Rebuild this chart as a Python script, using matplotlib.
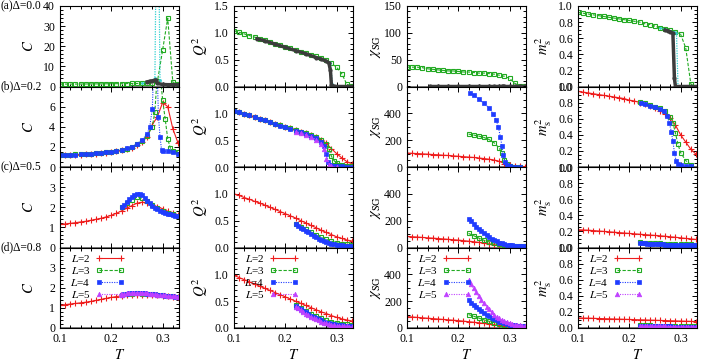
import matplotlib.pyplot as plt
from matplotlib.ticker import AutoMinorLocator, FormatStrFormatter

plt.rcParams['font.family'] = ['Liberation Serif', 'DejaVu Serif']
plt.rcParams['mathtext.fontset'] = 'stix'

# ---------------- data ----------------
T_full = [0.10, 0.11, 0.12, 0.13, 0.14, 0.15, 0.16, 0.17, 0.18, 0.19, 0.20, 0.21,
          0.22, 0.23, 0.24, 0.25, 0.26, 0.27, 0.28, 0.29, 0.30, 0.31, 0.32, 0.33]

# (a) Delta = 0.0
C_a3 = [1.2, 1.2, 1.2, 1.2, 1.25, 1.25, 1.3, 1.3, 1.3, 1.35, 1.35, 1.4,
        1.4, 1.45, 1.5, 1.5, 1.6, 1.7, 1.9, 2.6, 18, 34, 2.0, 1.2]
Q2_a3 = [1.04, 1.01, 0.98, 0.95, 0.92, 0.89, 0.86, 0.83, 0.80, 0.77, 0.74, 0.71,
         0.68, 0.65, 0.62, 0.59, 0.56, 0.53, 0.49, 0.43, 0.36, 0.24, 0.04, 0.01]
chi_a3 = [36, 36, 36, 35, 33, 32, 31, 30, 29, 29, 28, 27,
          27, 26, 25, 25, 24, 23, 21, 19, 15, 6, 1, 0.5]
m2_a3 = [0.92, 0.91, 0.90, 0.89, 0.88, 0.87, 0.86, 0.85, 0.84, 0.83, 0.82, 0.81,
         0.80, 0.78, 0.77, 0.75, 0.73, 0.72, 0.70, 0.68, 0.65, 0.48, 0.03, 0.0]

T_a_big = [0.145, 0.16, 0.18, 0.20, 0.22, 0.24, 0.26, 0.27, 0.28, 0.285, 0.288,
           0.29, 0.30, 0.31, 0.32, 0.33]
Q2_a_big = [0.89, 0.85, 0.79, 0.73, 0.67, 0.61, 0.54, 0.51, 0.47, 0.44, 0.30,
            0.02, 0.0, 0.0, 0.0, 0.0]
chi_a_big = [0.3, 0.3, 0.3, 0.3, 0.3, 0.3, 0.3, 0.3, 0.3, 0.3, 0.3,
             0.3, 0.3, 0.3, 0.3, 0.3]
T_a_big2 = [0.27, 0.275, 0.28, 0.285, 0.288, 0.29, 0.30, 0.31, 0.32, 0.33]
C_a_big = [2.3, 2.6, 2.8, 3.2, 3.0, 1.5, 1.0, 0.9, 0.9, 0.9]
m2_a_big = [0.70, 0.69, 0.68, 0.66, 0.10, 0.0, 0.0, 0.0, 0.0, 0.0]

T_a_cy = [0.26, 0.27, 0.28, 0.285, 0.288, 0.292, 0.295, 0.30, 0.31, 0.32, 0.33]
C_a_cy = [1.7, 2.2, 2.8, 4.0, 80, 80, 3.0, 1.2, 1.0, 0.9, 0.9]
Q2_a_cy = [0.54, 0.51, 0.47, 0.45, 0.44, 0.05, 0.0, 0.0, 0.0, 0.0, 0.0]
m2_a_cy = [0.73, 0.71, 0.69, 0.68, 0.68, 0.67, 0.0, 0.0, 0.0, 0.0, 0.0]

# (b) Delta = 0.2
C_b2 = [1.15, 1.17, 1.19, 1.21, 1.24, 1.27, 1.30, 1.34, 1.38, 1.43, 1.49, 1.56,
        1.65, 1.77, 1.93, 2.15, 2.5, 3.0, 4.2, 5.0, 6.4, 6.0, 3.8, 2.4]
Q2_b2 = [1.05, 1.02, 0.99, 0.96, 0.93, 0.90, 0.87, 0.84, 0.81, 0.78, 0.75, 0.72,
         0.69, 0.66, 0.63, 0.60, 0.56, 0.51, 0.44, 0.34, 0.25, 0.17, 0.10, 0.06]
chi_b2 = [104, 102, 100, 98, 96, 93, 91, 88, 86, 83, 80, 77,
          74, 71, 67, 63, 58, 52, 42, 25, 14, 8, 5, 3]
m2_b2 = [0.94, 0.93, 0.92, 0.91, 0.90, 0.89, 0.88, 0.87, 0.86, 0.85, 0.83, 0.82,
         0.80, 0.78, 0.76, 0.73, 0.70, 0.66, 0.61, 0.52, 0.40, 0.31, 0.22, 0.16]

T_b3 = [0.10, 0.11, 0.12, 0.13, 0.14, 0.15, 0.16, 0.17, 0.18, 0.19, 0.20, 0.21,
        0.22, 0.23, 0.24, 0.25, 0.26, 0.27, 0.28, 0.285, 0.29, 0.295, 0.30,
        0.305, 0.31, 0.315, 0.32, 0.33]
C_b3 = [1.2, 1.22, 1.24, 1.26, 1.28, 1.31, 1.34, 1.38, 1.42, 1.47, 1.53, 1.6,
        1.7, 1.83, 2.0, 2.25, 2.6, 3.1, 4.0, 5.5, 9.5, 9.5, 6.7,
        4.8, 2.8, 1.9, 1.6, 1.5]
Q2_b3 = [1.05, 1.02, 0.99, 0.96, 0.93, 0.90, 0.87, 0.84, 0.81, 0.78, 0.75, 0.72,
         0.69, 0.66, 0.63, 0.59, 0.55, 0.50, 0.42, 0.33, 0.20, 0.12, 0.07,
         0.04, 0.03, 0.02, 0.02, 0.01]
T_b3h = [0.22, 0.23, 0.24, 0.25, 0.26, 0.27, 0.28, 0.285, 0.29, 0.295, 0.30, 0.31, 0.32]
chi_b3 = [245, 238, 230, 220, 205, 180, 140, 105, 55, 20, 8, 3, 2]
m2_b3 = [0.81, 0.79, 0.77, 0.75, 0.73, 0.69, 0.62, 0.55, 0.42, 0.28, 0.18, 0.08, 0.03]

T_b4 = [0.10, 0.11, 0.12, 0.13, 0.14, 0.15, 0.16, 0.17, 0.18, 0.19, 0.20, 0.21,
        0.22, 0.23, 0.24, 0.25, 0.26, 0.27, 0.275, 0.28, 0.284, 0.288, 0.292,
        0.295, 0.298, 0.30, 0.31, 0.32, 0.33]
C_b4 = [1.18, 1.2, 1.22, 1.24, 1.27, 1.3, 1.33, 1.37, 1.41, 1.46, 1.52, 1.6,
        1.7, 1.84, 2.02, 2.3, 2.7, 3.3, 4.0, 5.8, 12, 12, 5.0,
        3.0, 1.7, 1.6, 1.55, 1.45, 1.25]
Q2_b4 = [1.05, 1.02, 0.99, 0.96, 0.93, 0.90, 0.87, 0.84, 0.80, 0.77, 0.74, 0.71,
         0.68, 0.65, 0.62, 0.58, 0.54, 0.46, 0.39, 0.25, 0.10, 0.04, 0.02,
         0.015, 0.01, 0.01, 0.01, 0.0, 0.0]
T_b4h = [0.222, 0.23, 0.24, 0.25, 0.26, 0.268, 0.274, 0.278, 0.282, 0.285, 0.288,
         0.291, 0.294, 0.30, 0.31, 0.32]
chi_b4 = [555, 535, 505, 475, 440, 395, 350, 300, 225, 160, 90, 40, 15, 5, 2, 1]
m2_b4 = [0.80, 0.78, 0.76, 0.74, 0.72, 0.69, 0.63, 0.55, 0.44, 0.32, 0.18,
         0.08, 0.04, 0.02, 0.015, 0.01]

T_b5 = [0.22, 0.23, 0.24, 0.25, 0.26, 0.27, 0.275, 0.28, 0.285, 0.29, 0.30]
Q2_b5 = [0.66, 0.63, 0.60, 0.56, 0.51, 0.43, 0.33, 0.14, 0.04, 0.01, 0.0]

# (c) Delta = 0.5
C_c2 = [1.15, 1.17, 1.2, 1.23, 1.27, 1.3, 1.35, 1.4, 1.45, 1.52, 1.6, 1.7,
        1.82, 1.95, 2.08, 2.2, 2.25, 2.22, 2.12, 2.02, 1.93, 1.8, 1.7, 1.6]
Q2_c2 = [1.0, 0.97, 0.93, 0.90, 0.86, 0.83, 0.79, 0.75, 0.71, 0.67, 0.63, 0.59,
         0.55, 0.50, 0.46, 0.41, 0.37, 0.32, 0.28, 0.24, 0.20, 0.17, 0.14, 0.12]
chi_c2 = [82, 80, 78, 75, 72, 70, 67, 64, 61, 58, 55, 51,
          47, 43, 38, 33, 27, 21, 15, 11, 8, 6, 4, 3]
m2_c2 = [0.22, 0.218, 0.215, 0.21, 0.205, 0.2, 0.195, 0.19, 0.185, 0.18, 0.175, 0.17,
         0.165, 0.16, 0.155, 0.15, 0.145, 0.14, 0.133, 0.127, 0.12, 0.113, 0.107, 0.1]

T_high = [0.22, 0.23, 0.24, 0.25, 0.26, 0.27, 0.28, 0.29, 0.30, 0.31, 0.32, 0.33]
C_c3 = [2.0, 2.2, 2.38, 2.5, 2.45, 2.3, 2.1, 1.95, 1.82, 1.72, 1.65, 1.58]
Q2_c3 = [0.44, 0.39, 0.34, 0.29, 0.24, 0.19, 0.15, 0.12, 0.09, 0.07, 0.06, 0.05]
chi_c3 = [105, 88, 70, 54, 42, 32, 24, 18, 14, 11, 9, 8]
m2_c3 = [0.065, 0.062, 0.058, 0.055, 0.052, 0.049, 0.046, 0.044, 0.042, 0.04, 0.038, 0.036]

T_dense = [0.22, 0.225, 0.23, 0.235, 0.24, 0.245, 0.25, 0.255, 0.26, 0.265, 0.27, 0.275,
           0.28, 0.285, 0.29, 0.295, 0.30, 0.305, 0.31, 0.315, 0.32, 0.325, 0.33]
C_c4 = [2.0, 2.12, 2.25, 2.4, 2.52, 2.62, 2.68, 2.68, 2.6, 2.48, 2.33, 2.2,
        2.08, 1.98, 1.9, 1.83, 1.77, 1.72, 1.68, 1.64, 1.6, 1.57, 1.55]
Q2_c4 = [0.43, 0.40, 0.37, 0.34, 0.31, 0.28, 0.25, 0.22, 0.19, 0.165, 0.14, 0.12,
         0.10, 0.085, 0.07, 0.06, 0.05, 0.045, 0.04, 0.035, 0.03, 0.028, 0.025]
chi_c4 = [215, 195, 175, 155, 137, 122, 108, 93, 78, 66, 55, 45,
          37, 30, 25, 21, 18, 15, 13, 12, 11, 10, 9]
m2_c4 = [0.055, 0.053, 0.051, 0.049, 0.047, 0.045, 0.043, 0.041, 0.039, 0.038, 0.036, 0.035,
         0.034, 0.032, 0.031, 0.03, 0.029, 0.028, 0.027, 0.027, 0.026, 0.025, 0.025]

# (d) Delta = 0.8
C_d2 = [1.13, 1.16, 1.19, 1.22, 1.25, 1.28, 1.32, 1.37, 1.42, 1.47, 1.52, 1.56,
        1.6, 1.63, 1.65, 1.66, 1.66, 1.65, 1.64, 1.62, 1.6, 1.58, 1.56, 1.54]
Q2_d2 = [0.98, 0.94, 0.90, 0.86, 0.82, 0.78, 0.74, 0.70, 0.66, 0.62, 0.58, 0.54,
         0.50, 0.46, 0.42, 0.38, 0.34, 0.30, 0.27, 0.23, 0.20, 0.17, 0.15, 0.13]
chi_d2 = [85, 82, 79, 76, 73, 70, 67, 64, 61, 58, 55, 51,
          47, 43, 39, 34, 29, 24, 19, 15, 11, 9, 7, 6]
m2_d2 = [0.125, 0.123, 0.122, 0.12, 0.118, 0.116, 0.114, 0.112, 0.11, 0.108, 0.106, 0.104,
         0.102, 0.1, 0.098, 0.096, 0.094, 0.092, 0.09, 0.088, 0.086, 0.084, 0.082, 0.08]

C_d3 = [1.62, 1.68, 1.71, 1.72, 1.71, 1.69, 1.67, 1.65, 1.62, 1.6, 1.58, 1.56]
Q2_d3 = [0.42, 0.37, 0.32, 0.27, 0.23, 0.19, 0.15, 0.12, 0.10, 0.08, 0.07, 0.06]
chi_d3 = [100, 88, 74, 61, 50, 40, 32, 26, 21, 17, 14, 12]
m2_d3 = [0.035, 0.034, 0.033, 0.031, 0.03, 0.029, 0.027, 0.026, 0.025, 0.023, 0.022, 0.021]

C_d4 = [1.63, 1.67, 1.7, 1.72, 1.73, 1.74, 1.74, 1.74, 1.73, 1.72, 1.71, 1.7,
        1.68, 1.67, 1.66, 1.64, 1.63, 1.61, 1.6, 1.58, 1.57, 1.56, 1.55]
Q2_d4 = [0.41, 0.38, 0.35, 0.32, 0.29, 0.26, 0.23, 0.20, 0.18, 0.16, 0.14, 0.12,
         0.10, 0.09, 0.08, 0.07, 0.06, 0.055, 0.05, 0.045, 0.04, 0.037, 0.035]
chi_d4 = [205, 190, 175, 160, 145, 128, 112, 98, 86, 75, 65, 56,
          48, 41, 35, 30, 26, 23, 20, 18, 16, 14, 13]
m2_d4 = [0.03, 0.029, 0.028, 0.027, 0.026, 0.025, 0.024, 0.023, 0.022, 0.021, 0.02, 0.02,
         0.019, 0.018, 0.018, 0.017, 0.017, 0.016, 0.016, 0.015, 0.015, 0.015, 0.014]

C_d5 = [1.65, 1.69, 1.72, 1.74, 1.75, 1.76, 1.76, 1.76, 1.75, 1.74, 1.72, 1.71,
        1.69, 1.68, 1.66, 1.65, 1.63, 1.62, 1.6, 1.59, 1.58, 1.57, 1.56]
Q2_d5 = [0.40, 0.37, 0.33, 0.30, 0.27, 0.24, 0.21, 0.18, 0.16, 0.14, 0.12, 0.10,
         0.085, 0.07, 0.06, 0.05, 0.045, 0.04, 0.035, 0.03, 0.028, 0.025, 0.023]
chi_d5 = [355, 325, 295, 265, 238, 210, 183, 160, 138, 118, 100, 85,
          71, 59, 49, 41, 34, 29, 25, 22, 19, 17, 15]
m2_d5 = [0.028, 0.027, 0.026, 0.025, 0.024, 0.023, 0.022, 0.021, 0.02, 0.019, 0.019, 0.018,
         0.017, 0.017, 0.016, 0.016, 0.015, 0.015, 0.014, 0.014, 0.014, 0.013, 0.013]

row_labels = ['(a)Δ=0.0', '(b)Δ=0.2', '(c)Δ=0.5', '(d)Δ=0.8']
y_labels = ['$C$', '$Q^2$', r'$\chi_{\rm SG}$', r'$m_{\rm s}^2$']
legend_labels = ['$L$=2', '$L$=3', '$L$=4', '$L$=5']

# ---------------- styles ----------------
styles = {
    'L2': dict(color='#ee1c1c', marker='+', ms=4.5, mew=0.8, ls='-', lw=0.8),
    'L3': dict(color='#22aa22', marker='s', ms=3.3, mfc='none', mew=0.8,
               ls=(0, (3, 1.5)), lw=0.8),
    'L4': dict(color='#1f3cff', marker='s', ms=2.8, mew=0.5, ls=(0, (1, 1.2)), lw=0.8),
    'L5': dict(color='#c040ff', marker='^', ms=3.3, mew=0.5, ls=(0, (1, 1.2)), lw=0.8),
    'cyan': dict(color='#30d0d0', marker='.', ms=2, ls=(0, (1, 1)), lw=0.9),
    'grey': dict(color='#3c3c3c', marker='o', ms=2, ls='-', lw=2.5),
}

# panels[row][col] = list of (style, T, y)
panels = [
    [
        [('L3', T_full, C_a3), ('cyan', T_a_cy, C_a_cy), ('grey', T_a_big2, C_a_big)],
        [('L3', T_full, Q2_a3), ('cyan', T_a_cy, Q2_a_cy), ('grey', T_a_big, Q2_a_big)],
        [('L3', T_full, chi_a3), ('grey', T_a_big, chi_a_big)],
        [('L3', T_full, m2_a3), ('cyan', T_a_cy, m2_a_cy), ('grey', T_a_big2, m2_a_big)],
    ],
    [
        [('L2', T_full, C_b2), ('L3', T_b3, C_b3), ('L4', T_b4, C_b4)],
        [('L2', T_full, Q2_b2), ('L3', T_b3, Q2_b3), ('L4', T_b4, Q2_b4), ('L5', T_b5, Q2_b5)],
        [('L2', T_full, chi_b2), ('L3', T_b3h, chi_b3), ('L4', T_b4h, chi_b4)],
        [('L2', T_full, m2_b2), ('L3', T_b3h, m2_b3), ('L4', T_b4h, m2_b4)],
    ],
    [
        [('L2', T_full, C_c2), ('L3', T_high, C_c3), ('L4', T_dense, C_c4)],
        [('L2', T_full, Q2_c2), ('L3', T_high, Q2_c3), ('L4', T_dense, Q2_c4)],
        [('L2', T_full, chi_c2), ('L3', T_high, chi_c3), ('L4', T_dense, chi_c4)],
        [('L2', T_full, m2_c2), ('L3', T_high, m2_c3), ('L4', T_dense, m2_c4)],
    ],
    [
        [('L2', T_full, C_d2), ('L3', T_high, C_d3), ('L4', T_dense, C_d4), ('L5', T_dense, C_d5)],
        [('L2', T_full, Q2_d2), ('L3', T_high, Q2_d3), ('L4', T_dense, Q2_d4), ('L5', T_dense, Q2_d5)],
        [('L2', T_full, chi_d2), ('L3', T_high, chi_d3), ('L4', T_dense, chi_d4), ('L5', T_dense, chi_d5)],
        [('L2', T_full, m2_d2), ('L3', T_high, m2_d3), ('L4', T_dense, m2_d4), ('L5', T_dense, m2_d5)],
    ],
]

# ylim and visible ticks per row/column
ylims = [
    [(0, 40), (0, 1.5), (0, 150), (0, 1.0)],
    [(0, 8), (0, 1.5), (0, 600), (0, 1.0)],
    [(0, 4), (0, 1.5), (0, 600), (0, 1.0)],
    [(0, 4), (0, 1.5), (0, 600), (0, 1.0)],
]
yticks = [
    [[0, 10, 20, 30, 40], [0, 0.5, 1.0, 1.5], [0, 50, 100, 150], [0, 0.2, 0.4, 0.6, 0.8, 1.0]],
    [[0, 2, 4, 6], [0, 0.5, 1.0], [0, 200, 400], [0, 0.2, 0.4, 0.6, 0.8, 1.0]],
    [[0, 1, 2, 3], [0, 0.5, 1.0], [0, 200, 400], [0, 0.2, 0.4, 0.6, 0.8, 1.0]],
    [[0, 1, 2, 3], [0, 0.5, 1.0], [0, 200, 400], [0, 0.2, 0.4, 0.6, 0.8, 1.0]],
]
yfmt = ['%d', '%.1f', '%d', '%.1f']

# ---------------- figure ----------------
W, H = 705, 363
fig = plt.figure(figsize=(W / 100, H / 100), dpi=100)
col_left = [60, 234, 407, 578]
row_top = [6, 86.5, 167, 247.5]
pw, ph = 119, 80.5

for r in range(4):
    fig.text(0.5 / W, 1 - row_top[r] / H, row_labels[r], fontsize=8.3, va='center', ha='left')
    for c in range(4):
        ax = fig.add_axes([col_left[c] / W, 1 - (row_top[r] + ph) / H, pw / W, ph / H])
        ax.axhline(0, color='#555555', lw=1.8, zorder=0.5)
        for key, T, y in panels[r][c]:
            ax.plot(T, y, **styles[key])
        ax.set_xlim(0.1, 0.332)
        ax.set_ylim(*ylims[r][c])
        ax.set_yticks(yticks[r][c])
        ax.yaxis.set_major_formatter(FormatStrFormatter(yfmt[c]))
        ax.set_xticks([0.1, 0.2, 0.3])
        ax.xaxis.set_major_formatter(FormatStrFormatter('%.1f'))
        ax.xaxis.set_minor_locator(AutoMinorLocator(5))
        ax.yaxis.set_minor_locator(AutoMinorLocator())
        ax.tick_params(which='both', direction='in', top=True, right=True,
                       labelsize=8.5, width=0.7)
        ax.tick_params(which='major', length=3.5)
        ax.tick_params(which='minor', length=2)
        for sp in ax.spines.values():
            sp.set_linewidth(0.8)
        ax.set_ylabel(y_labels[c], fontsize=10.5)
        ax.yaxis.set_label_coords(-0.2, 0.5)
        if r < 3:
            ax.tick_params(labelbottom=False)
        else:
            ax.set_xlabel('$T$', fontsize=10.5, labelpad=2)
            handles = [plt.Line2D([], [], **styles[k]) for k in ['L2', 'L3', 'L4', 'L5']]
            ax.legend(handles, legend_labels, loc='upper left', bbox_to_anchor=(0.02, 1.03),
                      frameon=False, markerfirst=False, fontsize=8, handlelength=2.6,
                      handletextpad=0.5, labelspacing=0.1, borderpad=0.2, numpoints=2)

fig.savefig('out.png', dpi=100)
